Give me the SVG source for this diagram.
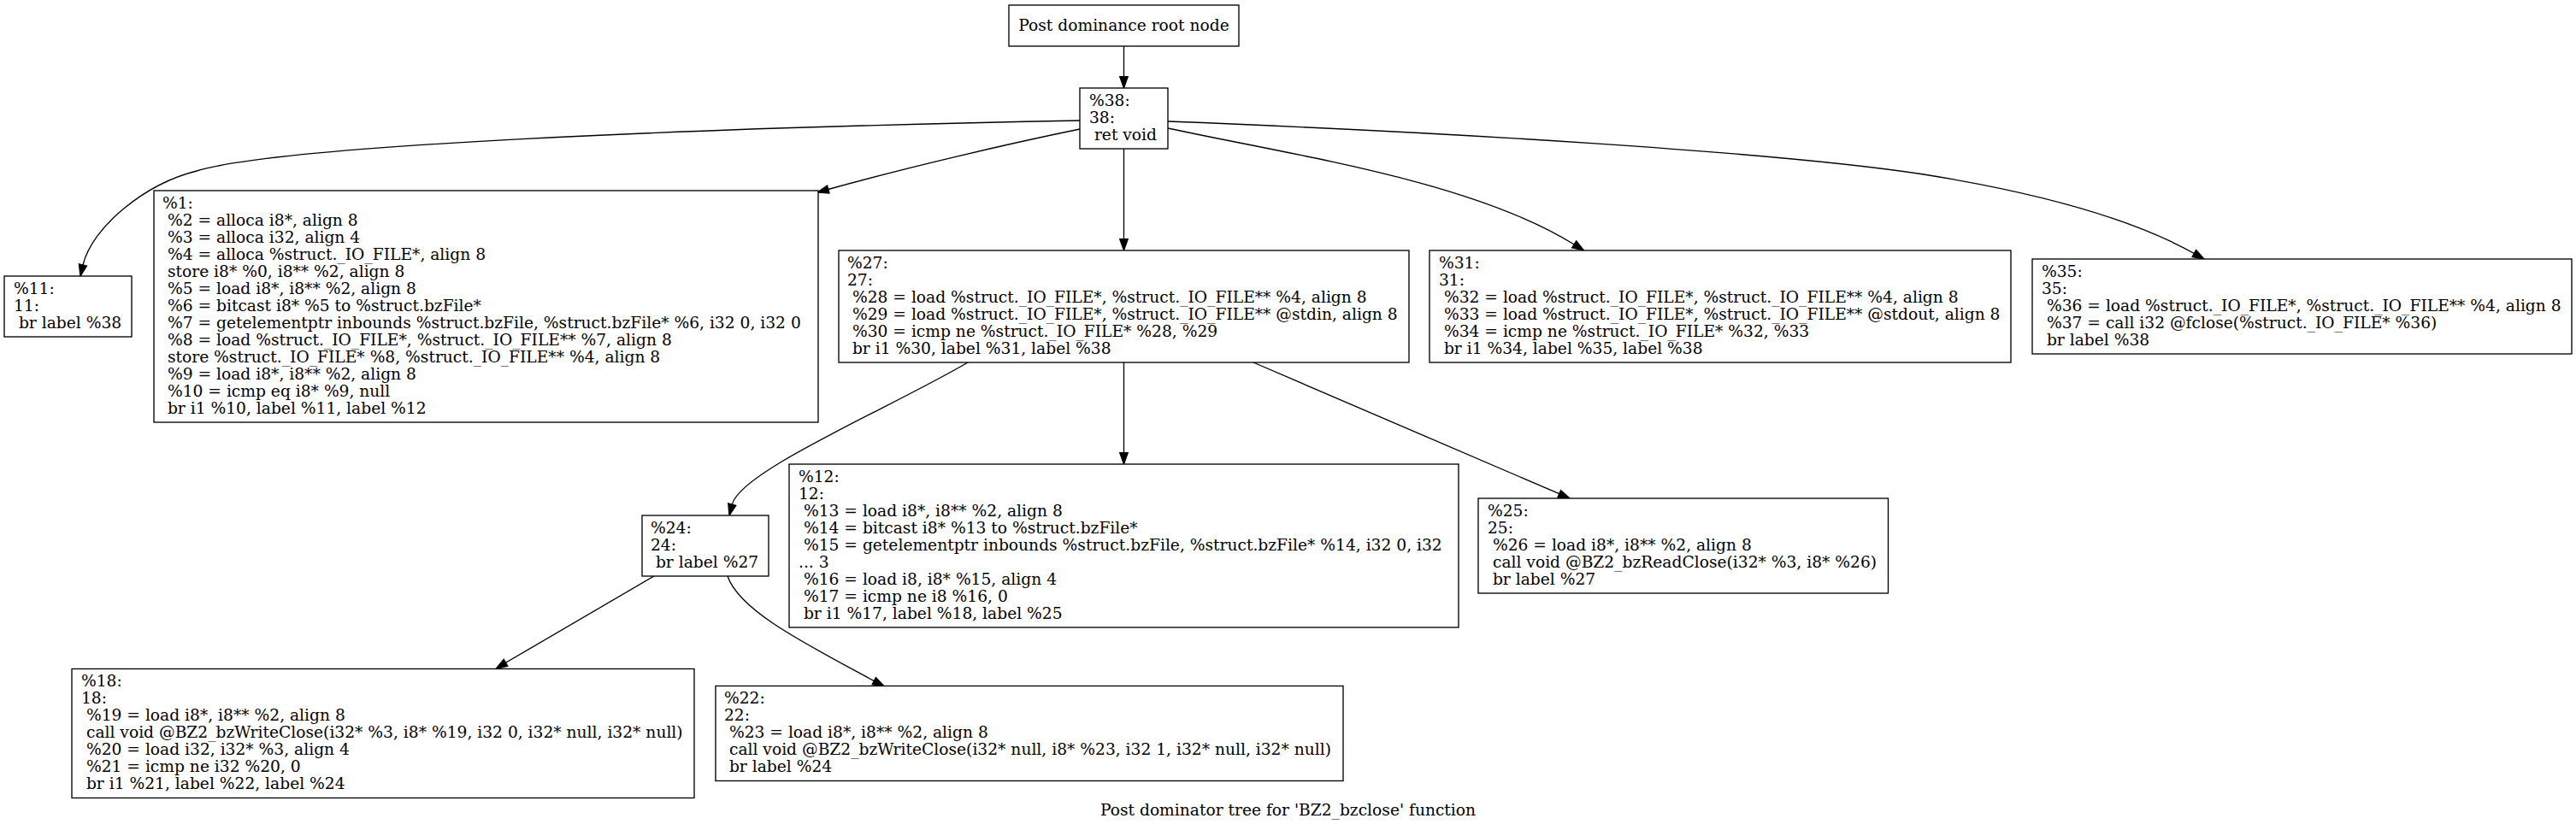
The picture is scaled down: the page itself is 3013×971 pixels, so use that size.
<svg xmlns="http://www.w3.org/2000/svg" width="3013" height="971" viewBox="0 0 3013 971">
<style>
text{font-family:"DejaVu Serif","Liberation Serif",serif;font-size:18.67px;fill:#000;white-space:pre}
.box{fill:#fff;stroke:#000;stroke-width:1.33}
.edge{fill:none;stroke:#000;stroke-width:1.33}
.head{fill:#000;stroke:#000;stroke-width:1.33}
</style>
<rect width="3013" height="971" fill="#fff"/>
<g id="connectors">
<path class="edge" d="M1314.5,54 L1314.5,89.7"/>
<polygon class="head" points="1309.8,89.7 1314.5,103 1319.2,89.7"/>
<path class="edge" d="M1314.5,174 L1314.5,279.7"/>
<polygon class="head" points="1309.8,279.7 1314.5,293 1319.2,279.7"/>
<path class="edge" d="M1314.5,424 L1314.5,529.7"/>
<polygon class="head" points="1309.8,529.7 1314.5,543 1319.2,529.7"/>
<path class="edge" d="M1263,141 C800,150 330,170 230,200 C170,215 108,265 97,310"/>
<polygon class="head" points="101.55,311.05 92.45,308.95 94,323"/>
<path class="edge" d="M1263,151 C1180,168 1060,196 968.8,221.5"/>
<polygon class="head" points="970,226 967.6,217 956,225"/>
<path class="edge" d="M1366,150 C1520,183 1722,212 1841.2,286"/>
<polygon class="head" points="1838.7,289.9 1843.7,282 1852.5,293"/>
<path class="edge" d="M1366,142 C1700,155 2080,178 2250,204 C2350,220 2479,247.5 2566.4,296.5"/>
<polygon class="head" points="2564.1,300.6 2568.7,292.4 2578,303"/>
<path class="edge" d="M1132,424 C1040,478 866,551 856.3,590.1"/>
<polygon class="head" points="851.8,588.9 860.8,591.3 853,603"/>
<path class="edge" d="M1466,424 L1823.8,577.7"/>
<polygon class="head" points="1821.9,582 1825.6,573.5 1836,583"/>
<path class="edge" d="M765,674 L591.5,775.3"/>
<polygon class="head" points="589.2,771.3 593.8,779.3 580,782.5"/>
<path class="edge" d="M851,674 C865,715 943,753.5 1022.3,796.6"/>
<polygon class="head" points="1020.1,800.7 1024.5,792.5 1034,802.5"/>
</g>
<g id="root">
<rect class="box" x="1180" y="6" width="269" height="48"/>
<text x="1314.5" y="36" text-anchor="middle">Post dominance root node</text>
</g>
<g id="n38">
<rect class="box" x="1263" y="103" width="103" height="71"/>
<text xml:space="preserve"><tspan x="1274" y="123.5">%38:</tspan><tspan x="1274" y="143.5">38:</tspan><tspan x="1274" y="163.5"> ret void</tspan></text>
</g>
<g id="n11">
<rect class="box" x="5" y="323" width="149" height="71"/>
<text xml:space="preserve"><tspan x="16" y="343.5">%11:</tspan><tspan x="16" y="363.5">11:</tspan><tspan x="16" y="383.5"> br label %38</tspan></text>
</g>
<g id="n1">
<rect class="box" x="180" y="223" width="777" height="271"/>
<text xml:space="preserve"><tspan x="190" y="243.5">%1:</tspan><tspan x="190" y="263.5"> %2 = alloca i8*, align 8</tspan><tspan x="190" y="283.5"> %3 = alloca i32, align 4</tspan><tspan x="190" y="303.5"> %4 = alloca %struct._IO_FILE*, align 8</tspan><tspan x="190" y="323.5"> store i8* %0, i8** %2, align 8</tspan><tspan x="190" y="343.5"> %5 = load i8*, i8** %2, align 8</tspan><tspan x="190" y="363.5"> %6 = bitcast i8* %5 to %struct.bzFile*</tspan><tspan x="190" y="383.5"> %7 = getelementptr inbounds %struct.bzFile, %struct.bzFile* %6, i32 0, i32 0</tspan><tspan x="190" y="403.5"> %8 = load %struct._IO_FILE*, %struct._IO_FILE** %7, align 8</tspan><tspan x="190" y="423.5"> store %struct._IO_FILE* %8, %struct._IO_FILE** %4, align 8</tspan><tspan x="190" y="443.5"> %9 = load i8*, i8** %2, align 8</tspan><tspan x="190" y="463.5"> %10 = icmp eq i8* %9, null</tspan><tspan x="190" y="483.5"> br i1 %10, label %11, label %12</tspan></text>
</g>
<g id="n27">
<rect class="box" x="981" y="293" width="667" height="131"/>
<text xml:space="preserve"><tspan x="991" y="313.5">%27:</tspan><tspan x="991" y="333.5">27:</tspan><tspan x="991" y="353.5"> %28 = load %struct._IO_FILE*, %struct._IO_FILE** %4, align 8</tspan><tspan x="991" y="373.5"> %29 = load %struct._IO_FILE*, %struct._IO_FILE** @stdin, align 8</tspan><tspan x="991" y="393.5"> %30 = icmp ne %struct._IO_FILE* %28, %29</tspan><tspan x="991" y="413.5"> br i1 %30, label %31, label %38</tspan></text>
</g>
<g id="n31">
<rect class="box" x="1672" y="293" width="680" height="131"/>
<text xml:space="preserve"><tspan x="1683" y="313.5">%31:</tspan><tspan x="1683" y="333.5">31:</tspan><tspan x="1683" y="353.5"> %32 = load %struct._IO_FILE*, %struct._IO_FILE** %4, align 8</tspan><tspan x="1683" y="373.5"> %33 = load %struct._IO_FILE*, %struct._IO_FILE** @stdout, align 8</tspan><tspan x="1683" y="393.5"> %34 = icmp ne %struct._IO_FILE* %32, %33</tspan><tspan x="1683" y="413.5"> br i1 %34, label %35, label %38</tspan></text>
</g>
<g id="n35">
<rect class="box" x="2377" y="303" width="631" height="111"/>
<text xml:space="preserve"><tspan x="2388" y="323.5">%35:</tspan><tspan x="2388" y="343.5">35:</tspan><tspan x="2388" y="363.5"> %36 = load %struct._IO_FILE*, %struct._IO_FILE** %4, align 8</tspan><tspan x="2388" y="383.5"> %37 = call i32 @fclose(%struct._IO_FILE* %36)</tspan><tspan x="2388" y="403.5"> br label %38</tspan></text>
</g>
<g id="n24">
<rect class="box" x="751" y="603" width="148" height="71"/>
<text xml:space="preserve"><tspan x="761" y="623.5">%24:</tspan><tspan x="761" y="643.5">24:</tspan><tspan x="761" y="663.5"> br label %27</tspan></text>
</g>
<g id="n12">
<rect class="box" x="923" y="543" width="783" height="191"/>
<text xml:space="preserve"><tspan x="934" y="563.5">%12:</tspan><tspan x="934" y="583.5">12:</tspan><tspan x="934" y="603.5"> %13 = load i8*, i8** %2, align 8</tspan><tspan x="934" y="623.5"> %14 = bitcast i8* %13 to %struct.bzFile*</tspan><tspan x="934" y="643.5"> %15 = getelementptr inbounds %struct.bzFile, %struct.bzFile* %14, i32 0, i32</tspan><tspan x="934" y="663.5">... 3</tspan><tspan x="934" y="683.5"> %16 = load i8, i8* %15, align 4</tspan><tspan x="934" y="703.5"> %17 = icmp ne i8 %16, 0</tspan><tspan x="934" y="723.5"> br i1 %17, label %18, label %25</tspan></text>
</g>
<g id="n25">
<rect class="box" x="1729" y="583" width="479.5" height="111"/>
<text xml:space="preserve"><tspan x="1740" y="603.5">%25:</tspan><tspan x="1740" y="623.5">25:</tspan><tspan x="1740" y="643.5"> %26 = load i8*, i8** %2, align 8</tspan><tspan x="1740" y="663.5"> call void @BZ2_bzReadClose(i32* %3, i8* %26)</tspan><tspan x="1740" y="683.5"> br label %27</tspan></text>
</g>
<g id="n18">
<rect class="box" x="84" y="782.5" width="728" height="151"/>
<text xml:space="preserve"><tspan x="95" y="803">%18:</tspan><tspan x="95" y="823">18:</tspan><tspan x="95" y="843"> %19 = load i8*, i8** %2, align 8</tspan><tspan x="95" y="863"> call void @BZ2_bzWriteClose(i32* %3, i8* %19, i32 0, i32* null, i32* null)</tspan><tspan x="95" y="883"> %20 = load i32, i32* %3, align 4</tspan><tspan x="95" y="903"> %21 = icmp ne i32 %20, 0</tspan><tspan x="95" y="923"> br i1 %21, label %22, label %24</tspan></text>
</g>
<g id="n22">
<rect class="box" x="837" y="802.5" width="734" height="111"/>
<text xml:space="preserve"><tspan x="847" y="823">%22:</tspan><tspan x="847" y="843">22:</tspan><tspan x="847" y="863"> %23 = load i8*, i8** %2, align 8</tspan><tspan x="847" y="883"> call void @BZ2_bzWriteClose(i32* null, i8* %23, i32 1, i32* null, i32* null)</tspan><tspan x="847" y="903"> br label %24</tspan></text>
</g>
<g id="caption">
<text x="1506.5" y="954" text-anchor="middle">Post dominator tree for 'BZ2_bzclose' function</text>
</g>
</svg>
